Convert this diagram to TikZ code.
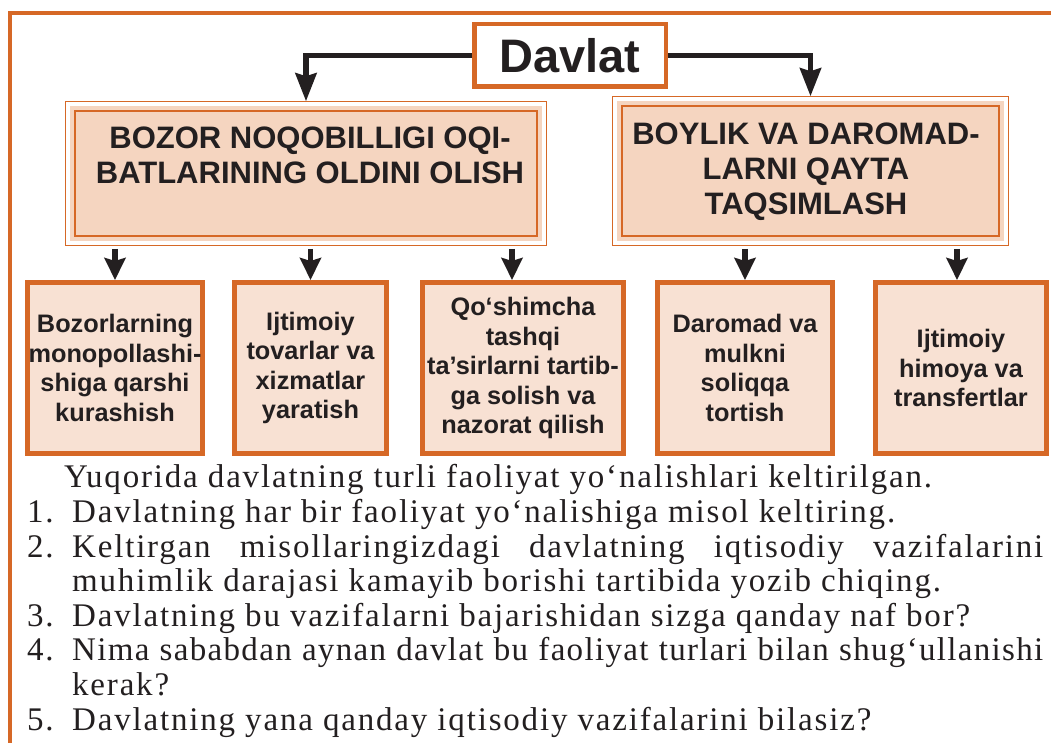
\documentclass[tikz,border=0pt]{standalone}
\usepackage{fontspec}
\setmainfont{Liberation Serif}
\newfontfamily\boxfont{Liberation Sans}
\newfontfamily\txtfont{Liberation Serif}[LetterSpace=5.5]
\newfontfamily\txtfontn{Liberation Serif}[LetterSpace=4]
\usetikzlibrary{arrows.meta,backgrounds}
\definecolor{frameor}{HTML}{D66826}
\definecolor{peach}{HTML}{F5D5C0}
\definecolor{peachlt}{HTML}{F8E1D3}
\definecolor{ink}{HTML}{231F20}
\tikzset{
  topbox/.style={draw=frameor, line width=4.5pt, fill=white, inner sep=0pt,
    minimum width=191.5pt, minimum height=62.5pt, text=ink,
    font=\boxfont\bfseries\fontsize{47}{50}\selectfont},
  bigbox/.style={draw=frameor, line width=1.5pt, fill=peach, inner sep=0pt},
  bigtext/.style={text=ink, align=center, inner sep=0pt,
    font=\boxfont\bfseries\fontsize{31}{35}\selectfont},
  smallbox/.style={draw=frameor, line width=5pt, fill=peachlt, inner sep=0pt,
    minimum height=171pt, text=ink, align=center,
    font=\boxfont\bfseries\fontsize{25.3}{29.5}\selectfont},
  conn/.style={draw=ink, line width=5.5pt, -{Stealth[width=21pt,length=28pt,inset=3pt]}},
  sub/.style={draw=ink, line width=5.5pt, -{Stealth[width=21pt,length=22pt,inset=3pt]}},
  body/.style={anchor=base west, inner sep=0pt, text=ink,
    font=\txtfont\fontsize{33}{34.7}\selectfont},
}
\begin{document}
\begin{tikzpicture}[x=1pt,y=-1pt]
\useasboundingbox (0,0) rectangle (1051,743);
\clip (0,0) rectangle (1051,743);
\draw[frameor, line width=4pt] (10,800) -- (10,13) -- (1100,13);

\node[topbox] (D) at (570,55.5) {Davlat};

\node[bigbox, minimum width=462pt, minimum height=125pt] (L) at (306,173.5) {};
\node[bigtext] (Lt) at (310,155.5) {BOZOR NOQOBILLIGI OQI-\\BATLARINING OLDINI OLISH};
\node[bigbox, minimum width=377pt, minimum height=130pt] (R) at (810.5,171) {};
\node[bigtext] (Rt) at (806,172) {BOYLIK VA DAROMAD-\\LARNI QAYTA\\TAQSIMLASH};

\begin{pgfonlayer}{background}
  \foreach \b in {L,R}{
    \draw[frameor, line width=1.2pt, fill=white]
      ([shift={(-9pt,9pt)}]\b.north west) rectangle ([shift={(9pt,-9pt)}]\b.south east);
    \fill[peach]
      ([shift={(-4.5pt,4.5pt)}]\b.north west) rectangle ([shift={(4.5pt,-4.5pt)}]\b.south east);
  }
\end{pgfonlayer}

\node[smallbox, minimum width=175pt] (s1) at (115,368) {Bozorlarning\\monopollashi-\\shiga qarshi\\kurashish};
\node[smallbox, minimum width=152pt] (s2) at (310.5,368) {Ijtimoiy\\tovarlar va\\xizmatlar\\yaratish};
\node[smallbox, minimum width=201pt] (s3) at (523,368) {Qo‘shimcha\\tashqi\\ta’sirlarni tartib-\\ga solish va\\nazorat qilish};
\node[smallbox, minimum width=175pt] (s4) at (745,368) {Daromad va\\mulkni\\soliqqa\\tortish};
\node[smallbox, minimum width=171pt] (s5) at (961,368) {Ijtimoiy\\himoya va\\transfertlar};

\coordinate (a3) at ([xshift=-11pt]s3.north);
\coordinate (a5) at ([xshift=-4pt]s5.north);
\coordinate (Lb) at ([yshift=-12pt]L.south);
\coordinate (Rb) at ([yshift=-12pt]R.south);

\draw[conn] (D.west) -| ([yshift=9pt]L.north);
\draw[conn] (D.east) -| ([yshift=9pt]R.north);

\draw[sub] (Lb -| s1.north) -- (s1.north);
\draw[sub] (Lb -| s2.north) -- (s2.north);
\draw[sub] (Lb -| a3) -- (a3);
\draw[sub] (Rb -| s4.north) -- (s4.north);
\draw[sub] (Rb -| a5) -- (a5);

\node[body] (t0) at (64,487) {Yuqorida davlatning turli faoliyat yo‘nalishlari keltirilgan.};
\node[body] (n1) at (27,522) {1.};
\node[body] (t1) at (72,522) {Davlatning har bir faoliyat yo‘nalishiga misol keltiring.};
\node[body] (n2) at (27,557) {2.};
\node[body] (t2) at (72,557) {\makebox[971pt][s]{Keltirgan misollaringizdagi davlatning iqtisodiy vazifalarini}};
\node[body] (t3) at (72,591) {muhimlik darajasi kamayib borishi tartibida yozib chiqing.};
\node[body] (n4) at (27,626) {3.};
\node[body] (t4) at (72,626) {Davlatning bu vazifalarni bajarishidan sizga qanday naf bor?};
\node[body] (n5) at (27,660) {4.};
\node[body] (t5) at (72,660) {\txtfontn\makebox[971pt][s]{Nima sababdan aynan davlat bu faoliyat turlari bilan shug‘ullanishi}};
\node[body] (t6) at (72,695) {kerak?};
\node[body] (n7) at (27,730) {5.};
\node[body] (t7) at (72,730) {Davlatning yana qanday iqtisodiy vazifalarini bilasiz?};
\end{tikzpicture}
\end{document}
